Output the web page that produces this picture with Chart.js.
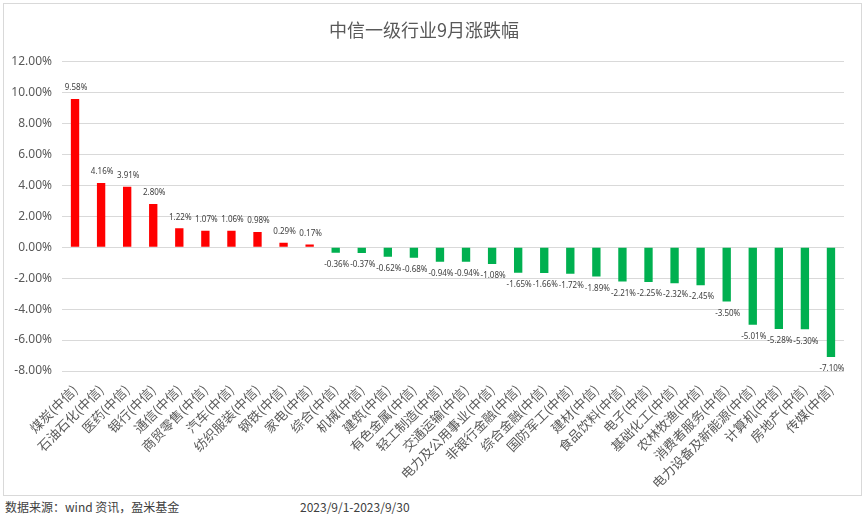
<!DOCTYPE html>
<html>
<head>
<meta charset="utf-8">
<script src="https://cdn.jsdelivr.net/npm/chart.js@4/dist/chart.umd.min.js"></script>
<style>
  html, body { margin: 0; padding: 0; background: #fff; }
  body { width: 865px; height: 517px; position: relative; overflow: hidden; font-family: "Noto Sans CJK SC", "Noto Sans", sans-serif; }
  #frame { position: absolute; left: 3px; top: 3px; width: 857px; height: 491px; border: 1px solid #d9d9d9; }
  #wrap { position: absolute; left: 0; top: 0; width: 865px; height: 497px; }
  .foot { position: absolute; top: 498px; font-size: 12px; color: #404040; }
</style>
</head>
<body>
<div id="frame"></div>
<div id="wrap"><canvas id="chart"></canvas></div>
<div class="foot" style="left:5px">数据来源：wind 资讯，盈米基金</div>
<div class="foot" style="left:300px">2023/9/1-2023/9/30</div>
<script>
const industries = [
  "煤炭(中信)", "石油石化(中信)", "医药(中信)", "银行(中信)", "通信(中信)",
  "商贸零售(中信)", "汽车(中信)", "纺织服装(中信)", "钢铁(中信)", "家电(中信)",
  "综合(中信)", "机械(中信)", "建筑(中信)", "有色金属(中信)", "轻工制造(中信)",
  "交通运输(中信)", "电力及公用事业(中信)", "非银行金融(中信)", "综合金融(中信)", "国防军工(中信)",
  "建材(中信)", "食品饮料(中信)", "电子(中信)", "基础化工(中信)", "农林牧渔(中信)",
  "消费者服务(中信)", "电力设备及新能源(中信)", "计算机(中信)", "房地产(中信)", "传媒(中信)"
];
const changes = [
  9.58, 4.16, 3.91, 2.80, 1.22, 1.07, 1.06, 0.98, 0.29, 0.17,
  -0.36, -0.37, -0.62, -0.68, -0.94, -0.94, -1.08, -1.65, -1.66, -1.72,
  -1.89, -2.21, -2.25, -2.32, -2.45, -3.50, -5.01, -5.28, -5.30, -7.10
];
const yMin = -8, yMax = 12, yStep = 2;

const barLabels = {
  id: "barLabels",
  afterDatasetsDraw(chart) {
    const ctx = chart.ctx;
    const meta = chart.getDatasetMeta(0);
    ctx.save();
    ctx.font = "8px 'Noto Sans', sans-serif";
    ctx.fillStyle = "#404040";
    ctx.textAlign = "center";
    ctx.textBaseline = "middle";
    meta.data.forEach((bar, i) => {
      const v = changes[i];
      const y = v >= 0 ? bar.y - 11 : bar.y + 12;
      ctx.fillText(v.toFixed(2) + "%", bar.x + 1, y);
    });
    ctx.restore();
  }
};

new Chart(document.getElementById("chart"), {
  type: "bar",
  data: {
    labels: industries,
    datasets: [{
      data: changes,
      backgroundColor: changes.map((v) => (v >= 0 ? "#ff0000" : "#00b050")),
      barPercentage: 0.32,
      categoryPercentage: 1
    }]
  },
  options: {
    responsive: true,
    maintainAspectRatio: false,
    animation: false,
    layout: { padding: { left: 4, right: 21, top: 0, bottom: 0 } },
    plugins: {
      legend: { display: false },
      tooltip: { enabled: false },
      title: {
        display: true,
        text: "中信一级行业9月涨跌幅",
        color: "#595959",
        font: { size: 18, family: "'Noto Sans CJK SC', sans-serif", weight: "normal", lineHeight: 1.2 },
        padding: { top: 19, bottom: 21 }
      }
    },
    scales: {
      x: {
        grid: { display: false },
        border: { display: false },
        ticks: {
          color: "#595959",
          font: { size: 13, family: "'Noto Sans CJK SC', sans-serif" },
          maxRotation: 45,
          minRotation: 45,
          autoSkip: false,
          padding: 3
        },
        afterFit(scale) { scale.height = 126; }
      },
      y: {
        min: yMin,
        max: yMax,
        grid: { color: "#d9d9d9", drawTicks: false },
        border: { display: false },
        ticks: {
          stepSize: yStep,
          color: "#595959",
          padding: 10,
          font: { size: 12, family: "'Noto Sans', sans-serif" },
          callback: (v) => v.toFixed(2) + "%"
        },
        afterFit(scale) { scale.width = 58; }
      }
    }
  },
  plugins: [barLabels]
});
</script>
</body>
</html>
